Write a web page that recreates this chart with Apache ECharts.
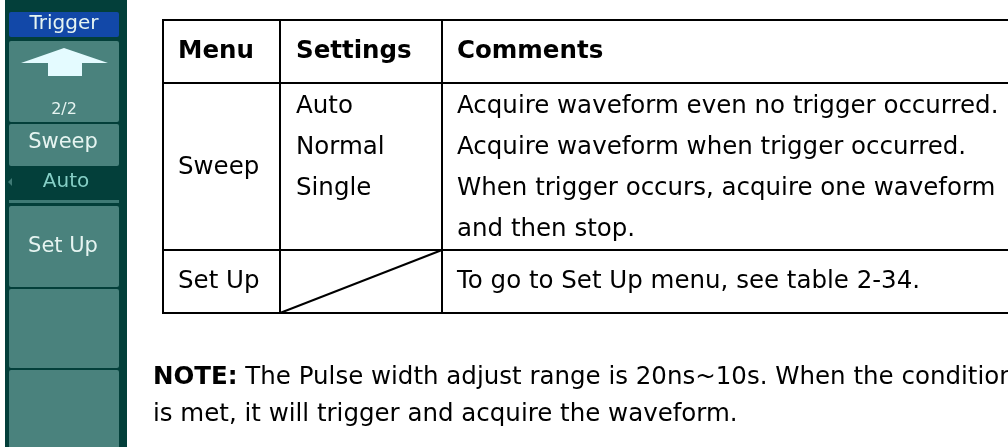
<!DOCTYPE html>
<html>
<head>
<meta charset="utf-8">
<script src="https://cdn.jsdelivr.net/npm/echarts@6/dist/echarts.min.js"></script>
<style>html,body{margin:0;padding:0;background:#fff;}#c{width:1008px;height:447px;}</style>
</head>
<body>
<div id="c"></div>
<script>
// ---- content ----
const panelTitle = 'Trigger';
const pageIndicator = '2/2';
const panelButtons = ['', 'Sweep', 'Set Up', '', ''];
const panelValue = 'Auto';
const tableHeaders = ['Menu', 'Settings', 'Comments'];
const rowMenus = ['Sweep', 'Set Up'];
const sweepSettings = ['Auto', 'Normal', 'Single'];
const sweepComments = [
  'Acquire waveform even no trigger occurred.',
  'Acquire waveform when trigger occurred.',
  'When trigger occurs, acquire one waveform',
  'and then stop.'
];
const setUpComments = ['To go to Set Up menu, see table 2-34.'];
const noteLabel = 'NOTE:';
const noteLines = [
  ' The Pulse width adjust range is 20ns~10s. When the condition',
  'is met, it will trigger and acquire the waveform.'
];

// ---- styling ----
const FONT = '"DejaVu Sans", Verdana, sans-serif';
const FS = 24.5;
const DARK = '#033f3a', BTN = '#4a827d', BLUE = '#1248a8', PTXT = '#e6f4f1', VAL = '#86cfc6';

const chart = echarts.init(document.getElementById('c'), null, {renderer: 'canvas'});
const g = [];
function txt(x, y, s, opt) {
  opt = opt || {};
  g.push({type: 'text', x: x, y: y, z: 10, style: Object.assign({
    text: s, fill: opt.fill || '#000', fontSize: opt.size || FS, fontFamily: FONT,
    fontWeight: opt.bold ? 'bold' : 'normal',
    align: opt.align || 'left', verticalAlign: 'middle',
    textAlign: opt.align || 'left', textVerticalAlign: 'middle'
  }, opt.rich ? {rich: opt.rich} : {})});
}
function line(x1, y1, x2, y2, w, c) {
  g.push({type: 'line', z: 5, shape: {x1, y1, x2, y2}, style: {stroke: c || '#000', lineWidth: w || 2}});
}
function rect(x, y, w, h, fill, r) {
  g.push({type: 'rect', z: 1, shape: {x, y, width: w, height: h, r: r || 0}, style: {fill: fill}});
}

// ---- left oscilloscope menu panel ----
rect(5, 0, 122, 447, DARK);
rect(9, 12, 110, 25, BLUE, 2);
txt(64, 24, panelTitle, {fill: PTXT, size: 20, align: 'center'});
const btnBounds = [[41, 122], [124, 166], [206, 287], [289, 368], [370, 460]];
btnBounds.forEach(function (b, i) {
  rect(9, b[0], 110, b[1] - b[0], BTN, 2);
  if (panelButtons[i]) txt(63, i === 1 ? 143 : (b[0] + b[1]) / 2, panelButtons[i], {fill: PTXT, size: 21, align: 'center'});
});
// up arrow in first button
g.push({type: 'polygon', z: 6, shape: {points: [[64, 48], [108, 63], [82, 63], [82, 76], [48, 76], [48, 63], [21, 63]]}, style: {fill: '#e4fbff'}});
txt(64, 110, pageIndicator, {fill: PTXT, size: 16, align: 'center'});
// selected value band
txt(66, 182, panelValue, {fill: VAL, size: 20, align: 'center'});
g.push({type: 'polygon', z: 6, shape: {points: [[8, 182], [12, 178], [12, 186]]}, style: {fill: '#3f7a75'}});
rect(9, 200, 110, 3, '#3f7a75');

// ---- table ----
const tx = [163, 280, 442, 1012];
const ty = [20, 83, 250, 313];
ty.forEach(function (y) { line(tx[0] - 1, y, tx[3], y); });
tx.forEach(function (x) { line(x, ty[0], x, ty[3]); });
line(tx[1], ty[3], tx[2], ty[2], 2);
const padL = [178, 296, 457];
tableHeaders.forEach(function (h, i) { txt(padL[i], 52, h, {bold: true}); });
txt(padL[0], 168, rowMenus[0]);
txt(padL[0], 282, rowMenus[1]);
const rowY = [107, 148, 189, 230];
sweepSettings.forEach(function (s, i) { txt(padL[1], rowY[i], s); });
sweepComments.forEach(function (s, i) { txt(padL[2], rowY[i], s); });
setUpComments.forEach(function (s) { txt(padL[2], 282, s); });

// ---- note ----
txt(153, 378, '{b|' + noteLabel + '}' + noteLines[0], {rich: {b: {fontWeight: 'bold', fontSize: FS, fontFamily: FONT, fill: '#000'}}});
txt(153, 415, noteLines[1]);

chart.setOption({animation: false, graphic: {elements: g}});
</script>
</body>
</html>
